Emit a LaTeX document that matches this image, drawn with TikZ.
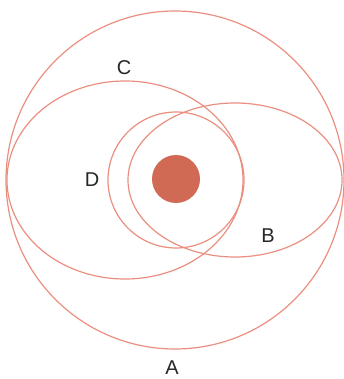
\documentclass[tikz,border=0pt]{standalone}
\usepackage{fontspec}
\setmainfont{Liberation Sans}
\definecolor{RingSalmon}{HTML}{EA8F7F}
\definecolor{CoreRed}{HTML}{D16A55}

\begin{document}
\begin{tikzpicture}[x=1pt,y=-1pt,every node/.style={font=\fontsize{20}{20}\selectfont,text=black!85}]
    \tikzset{ring/.style={draw=RingSalmon,line width=1.2pt}}
    \useasboundingbox (0,0) rectangle (343,379);
    \draw[ring] (175,180) circle[radius=169];
    \draw[ring] (125,180) ellipse[x radius=118,y radius=99];
    \draw[ring] (235,180) ellipse[x radius=107,y radius=77];
    \draw[ring] (176,180) circle[radius=68];
    \fill[CoreRed] (176,179) circle[radius=24];
    \node (a) at (172,368) {A};
    \node (b) at (268,236) {B};
    \node (c) at (124,68) {C};
    \node (d) at (92,180) {D};
  \end{tikzpicture}
\end{document}
